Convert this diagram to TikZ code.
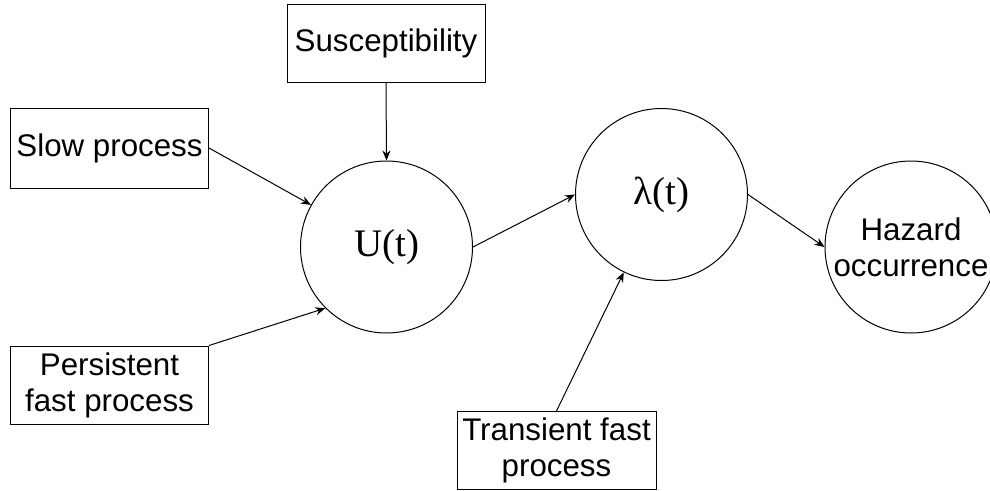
\documentclass[tikz,border=0pt]{standalone}
\usepackage{fontspec}
\setmainfont{Liberation Sans}
\newfontfamily\serifface{Liberation Serif}
\usetikzlibrary{arrows.meta}
\begin{document}
\begin{tikzpicture}[x=1pt,y=1pt,
  line width=1pt,
  inbox/.style={draw, minimum width=198pt, minimum height=78pt, inner sep=0pt,
                align=center, font=\fontsize{31.3}{36}\selectfont},
  state/.style={draw, circle, minimum size=172pt, inner sep=0pt, align=center},
  link/.style={-{Stealth[length=10pt,width=8pt]}}]
\useasboundingbox (0,0) rectangle (990,-490);

% driving factors
\node[inbox] (susc)  at (386,-43)    {Susceptibility};
\node[inbox, minimum height=80pt] (slow) at (109.5,-148) {Slow process};
\node[inbox] (pers)  at (109.5,-385) {Persistent\\fast process};
\node[inbox, minimum width=199pt] (trans) at (556.5,-450.5) {Transient fast\\process};

% states
\node[state, font=\serifface\fontsize{39}{46}\selectfont] (U)   at (386.5,-247)  {U(t)};
\node[state, font=\serifface\fontsize{39}{46}\selectfont] (lam) at (661.5,-194.5) {λ(t)};
\node[state, font=\fontsize{31.3}{36}\selectfont] (haz) at (911,-247) {Hazard\\occurrence};

% influences
\draw[link] (susc.south) -- (U.north);
\draw[link] (slow.east) -- (U);
\draw[link] (pers.north east) -- (U.225);
\draw[link] (U.east) -- (lam.west);
\draw[link] (trans.north) -- (lam);
\draw[link] (lam.east) -- (haz.west);
\end{tikzpicture}
\end{document}
